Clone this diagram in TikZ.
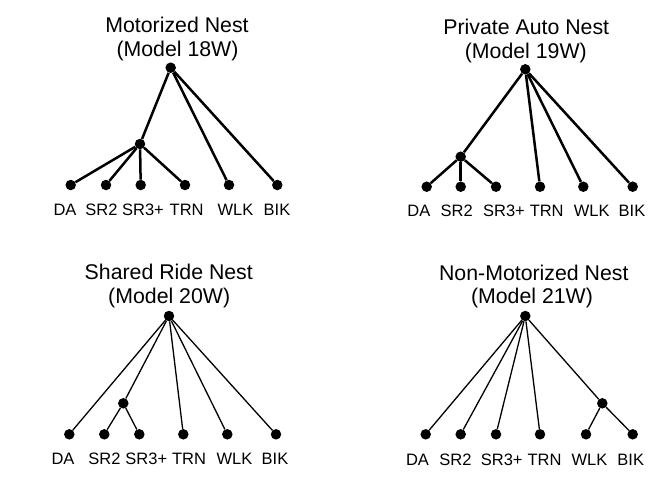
\documentclass[tikz,border=0pt]{standalone}
\usepackage{fontspec}
\setmainfont{Liberation Sans}
\begin{document}
\begin{tikzpicture}[x=1pt,y=-1pt,
  dot/.style={circle,fill=black,draw=none,inner sep=0pt,minimum size=10.5pt},
  thickedge/.style={line width=2.5pt},
  thinedge/.style={line width=1.3pt},
  ttl/.style={anchor=base,inner sep=0pt,font=\fontsize{21.3}{24}\selectfont},
  lbl/.style={anchor=base,inner sep=0pt,font=\fontsize{16.5}{19}\selectfont}]
\useasboundingbox[fill=white] (0,0) rectangle (668,491);

% ---------- Panel 1: Motorized Nest ----------
\node[ttl] (t1a) at (177,32.5) {Motorized Nest};
\node[ttl] (t1b) at (177.5,56.5) {(Model 18W)};
\node[dot] (r1) at (170.7,67.7) {};
\node[dot] (s1) at (140,144) {};
\node[dot] (a1) at (70.7,185) {};
\node[dot] (b1) at (106,185) {};
\node[dot] (c1) at (140.7,185) {};
\node[dot] (d1) at (185,185) {};
\node[dot] (e1) at (229,185) {};
\node[dot] (f1) at (277.3,185) {};
\draw[thickedge] (r1) -- (s1);
\draw[thickedge] (r1) -- (e1);
\draw[thickedge] (r1) -- (f1);
\draw[thickedge] (s1) -- (a1);
\draw[thickedge] (s1) -- (b1);
\draw[thickedge] (s1) -- (c1);
\draw[thickedge] (s1) -- (d1);
\node[lbl] (la1) at (65,215.1) {DA};
\node[lbl] (lb1) at (101.5,215.1) {SR2};
\node[lbl] (lc1) at (143,215.1) {SR3+};
\node[lbl] (ld1) at (186.7,215.1) {TRN};
\node[lbl] (le1) at (235.5,215.1) {WLK};
\node[lbl] (lf1) at (277,215.1) {BIK};

% ---------- Panel 2: Private Auto Nest ----------
\node[ttl] (t2a) at (526.3,34.3) {Private Auto Nest};
\node[ttl] (t2b) at (525.8,58) {(Model 19W)};
\node[dot] (r2) at (525.3,69.3) {};
\node[dot] (s2) at (460.7,156.7) {};
\node[dot] (a2) at (426.7,186.7) {};
\node[dot] (b2) at (460.7,186.7) {};
\node[dot] (c2) at (496,186.7) {};
\node[dot] (d2) at (540,186.7) {};
\node[dot] (e2) at (583.3,186.7) {};
\node[dot] (f2) at (632.7,186.7) {};
\draw[thickedge] (r2) -- (s2);
\draw[thickedge] (r2) -- (d2);
\draw[thickedge] (r2) -- (e2);
\draw[thickedge] (r2) -- (f2);
\draw[thickedge] (s2) -- (a2);
\draw[thickedge] (s2) -- (b2);
\draw[thickedge] (s2) -- (c2);
\node[lbl] (la2) at (418.8,216.5) {DA};
\node[lbl] (lb2) at (456.7,216.5) {SR2};
\node[lbl] (lc2) at (504,216.5) {SR3+};
\node[lbl] (ld2) at (546.7,216.5) {TRN};
\node[lbl] (le2) at (591.7,216.5) {WLK};
\node[lbl] (lf2) at (632,216.5) {BIK};

% ---------- Panel 3: Shared Ride Nest ----------
\node[ttl] (t3a) at (168.8,279.3) {Shared Ride Nest};
\node[ttl] (t3b) at (169.2,303) {(Model 20W)};
\node[dot] (r3) at (169,316) {};
\node[dot] (s3) at (123.3,403.3) {};
\node[dot] (a3) at (69.3,434.3) {};
\node[dot] (b3) at (104.3,434.3) {};
\node[dot] (c3) at (139.3,434.3) {};
\node[dot] (d3) at (183.3,434.3) {};
\node[dot] (e3) at (227.3,434.3) {};
\node[dot] (f3) at (276,434.3) {};
\draw[thinedge] (r3) -- (a3);
\draw[thinedge] (r3) -- (s3);
\draw[thinedge] (r3) -- (d3);
\draw[thinedge] (r3) -- (e3);
\draw[thinedge] (r3) -- (f3);
\draw[thinedge] (s3) -- (b3);
\draw[thinedge] (s3) -- (c3);
\node[lbl] (la3) at (63,464.1) {DA};
\node[lbl] (lb3) at (104.5,464.1) {SR2};
\node[lbl] (lc3) at (146.3,464.1) {SR3+};
\node[lbl] (ld3) at (189,464.1) {TRN};
\node[lbl] (le3) at (234.5,464.1) {WLK};
\node[lbl] (lf3) at (275,464.1) {BIK};

% ---------- Panel 4: Non-Motorized Nest ----------
\node[ttl] (t4a) at (533.8,280.3) {Non-Motorized Nest};
\node[ttl] (t4b) at (532,303) {(Model 21W)};
\node[dot] (r4) at (525.3,316) {};
\node[dot] (s4) at (602.3,403.3) {};
\node[dot] (a4) at (425.7,434.3) {};
\node[dot] (b4) at (460.7,434.3) {};
\node[dot] (c4) at (496,434.3) {};
\node[dot] (d4) at (540,434.3) {};
\node[dot] (e4) at (586,434.3) {};
\node[dot] (f4) at (632.7,434.3) {};
\draw[thinedge] (r4) -- (a4);
\draw[thinedge] (r4) -- (b4);
\draw[thinedge] (r4) -- (c4);
\draw[thinedge] (r4) -- (d4);
\draw[thinedge] (r4) -- (s4);
\draw[thinedge] (s4) -- (e4);
\draw[thinedge] (s4) -- (f4);
\node[lbl] (la4) at (417.5,465.1) {DA};
\node[lbl] (lb4) at (455.5,465.1) {SR2};
\node[lbl] (lc4) at (501.7,465.1) {SR3+};
\node[lbl] (ld4) at (544.5,465.1) {TRN};
\node[lbl] (le4) at (589.5,465.1) {WLK};
\node[lbl] (lf4) at (630.7,465.1) {BIK};
\end{tikzpicture}
\end{document}
